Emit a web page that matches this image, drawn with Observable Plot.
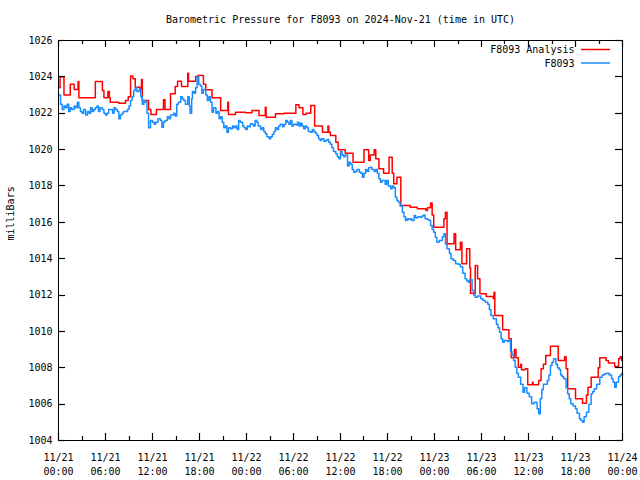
<!DOCTYPE html>
<html>
<head>
<meta charset="utf-8">
<script src="https://cdn.jsdelivr.net/npm/d3@7"></script>
<script src="https://cdn.jsdelivr.net/npm/@observablehq/plot@0.6"></script>
<style>
  html, body { margin: 0; padding: 0; background: white; }
</style>
</head>
<body>
<div id="chart"></div>
<script>
const titleText = "Barometric Pressure for F8093 on 2024-Nov-21 (time in UTC)";
const yLabelText = "milliBars";
const seriesNames = ["F8093 Analysis", "F8093"];
const seriesColors = ["#ff0000", "#1a8cff"];

const yTicks = [1004, 1006, 1008, 1010, 1012, 1014, 1016, 1018, 1020, 1022, 1024, 1026];
const xMajor = [0, 6, 12, 18, 24, 30, 36, 42, 48, 54, 60, 66, 72];
const xMinor = [3, 9, 15, 21, 27, 33, 39, 45, 51, 57, 63, 69];
const xTickLabels = ["11/21\n00:00", "11/21\n06:00", "11/21\n12:00", "11/21\n18:00",
  "11/22\n00:00", "11/22\n06:00", "11/22\n12:00", "11/22\n18:00",
  "11/23\n00:00", "11/23\n06:00", "11/23\n12:00", "11/23\n18:00", "11/24\n00:00"];

const analysisHours = [0,0.2,0.7,1.5,2.0,2.5,2.6,4.7,5.6,5.8,6.3,6.5,6.6,7.7,8.55,8.9,9.2,9.5,9.8,10.4,10.6,10.7,11.5,11.8,12.5,13.4,13.6,14.3,14.9,15.2,15.7,16.5,16.6,17.5,17.8,18.5,18.8,19.6,20.7,21.6,21.7,22.6,23.9,24.7,25.6,26.4,26.5,27.7,28.8,30.3,30.7,31.2,31.6,32.2,32.7,33.7,34.4,34.5,34.7,35.4,35.7,36.6,37.6,39.0,39.6,39.8,40.3,40.5,40.9,41.5,42.2,42.6,42.8,43.2,43.7,44.9,45.8,46.9,47.1,47.5,47.7,47.9,49.2,49.4,49.6,50.5,50.7,51.3,51.5,52.1,52.5,52.6,53.2,53.5,53.8,54.6,55.5,55.6,55.7,56.7,57.5,57.8,58.2,58.4,58.7,59.0,59.1,59.6,59.9,60.5,60.6,61.3,61.6,61.9,62.2,62.8,63.8,64.6,64.8,65.0,66.0,66.9,67.4,67.6,68.0,68.9,69.1,69.9,70.2,71.0,71.5,71.7,71.9,72.0];
const analysisValues = [1023.4,1024.0,1023.0,1023.6,1023.3,1023.75,1022.85,1023.75,1023.25,1022.85,1023.2,1022.85,1022.6,1022.55,1022.7,1022.9,1024.05,1023.9,1023.43,1023.3,1023.85,1022.7,1022.2,1021.93,1022.2,1022.74,1022.2,1023.07,1023.47,1023.76,1023.47,1024.2,1023.76,1024.02,1024.07,1023.6,1023.29,1022.85,1022.15,1022.6,1021.93,1022.06,1022.02,1022.15,1021.87,1022.33,1021.78,1021.97,1022.0,1022.46,1022.3,1021.93,1022.0,1022.43,1021.3,1020.96,1021.3,1020.96,1020.78,1020.4,1019.99,1019.8,1019.31,1019.99,1019.4,1019.7,1019.99,1019.5,1018.94,1018.7,1019.58,1018.7,1018.12,1018.48,1016.93,1016.83,1016.74,1016.65,1016.8,1017.06,1016.4,1015.73,1016.19,1016.56,1014.82,1015.37,1014.49,1014.9,1013.72,1014.54,1013.5,1012.1,1013.63,1012.9,1012.07,1011.92,1011.8,1012.16,1010.88,1010.09,1009.6,1008.55,1009.0,1008.55,1008.03,1008.2,1007.89,1007.95,1007.07,1007.2,1007.07,1007.3,1007.94,1008.2,1008.67,1009.19,1008.4,1008.6,1007.94,1006.84,1006.3,1006.05,1006.5,1006.93,1007.48,1008.0,1008.55,1008.4,1008.26,1008.07,1008.5,1008.6,1008.4,1008.4];

const stationHours = [0.0,0.26,0.47,0.7,0.9,1.1,1.3,1.5,1.7,2.0,2.2,2.4,2.6,2.8,3.0,3.2,3.45,3.7,3.9,4.1,4.3,4.5,4.7,4.9,5.1,5.3,5.6,5.8,6.0,6.2,6.4,6.6,6.9,7.1,7.3,7.5,7.7,7.9,8.1,8.3,8.55,8.8,9.0,9.2,9.4,9.6,9.8,10.0,10.3,10.5,10.7,10.9,11.1,11.3,11.5,11.75,12.0,12.2,12.4,12.7,13.0,13.2,13.4,13.6,13.9,14.1,14.3,14.5,14.7,14.9,15.1,15.3,15.6,15.8,16.0,16.2,16.5,16.7,16.8,17.0,17.1,17.3,17.5,17.7,17.9,18.1,18.3,18.5,18.8,19.0,19.2,19.4,19.6,19.8,20.1,20.3,20.5,20.7,20.9,21.1,21.3,21.5,21.7,21.96,22.2,22.4,22.6,22.8,23.0,23.2,23.5,23.7,23.9,24.1,24.3,24.5,24.7,24.9,25.1,25.3,25.5,25.8,26.0,26.2,26.4,26.6,26.9,27.1,27.3,27.5,27.7,27.9,28.1,28.3,28.6,28.8,29.0,29.2,29.4,29.6,29.8,30.0,30.3,30.5,30.7,30.9,31.1,31.3,31.5,31.7,31.9,32.2,32.4,32.6,32.8,33.0,33.2,33.4,33.6,33.9,34.1,34.3,34.5,34.7,34.9,35.1,35.4,35.6,35.8,36.0,36.2,36.4,36.6,36.9,37.1,37.3,37.5,37.7,37.9,38.1,38.4,38.6,38.8,39.0,39.2,39.4,39.6,39.8,40.0,40.3,40.5,40.7,40.9,41.1,41.3,41.5,41.7,41.9,42.1,42.4,42.6,42.8,43.0,43.2,43.4,43.6,43.9,44.1,44.3,44.5,44.7,44.9,45.1,45.4,45.6,45.9,46.2,46.4,46.6,46.8,47.1,47.3,47.5,47.7,47.9,48.1,48.3,48.6,48.8,49.0,49.2,49.4,49.6,49.9,50.1,50.4,50.7,51.0,51.3,51.6,51.9,52.1,52.3,52.5,52.8,53.0,53.2,53.5,53.9,54.2,54.5,54.8,55.0,55.2,55.5,55.9,56.1,56.3,56.5,56.7,56.9,57.1,57.3,57.5,57.7,57.9,58.1,58.3,58.5,58.7,59.0,59.3,59.5,59.8,60.1,60.4,60.7,61.1,61.3,61.5,61.7,61.9,62.1,62.4,62.6,62.8,63.0,63.2,63.5,63.7,63.9,64.1,64.3,64.5,64.8,65.0,65.2,65.4,65.7,66.0,66.2,66.5,66.7,66.9,67.1,67.4,67.7,68.0,68.2,68.4,68.7,69.1,69.4,69.7,70.0,70.3,70.6,70.8,71.0,71.2,71.5,71.7,71.9,72.0];
const stationValues = [1023.0,1022.5,1022.2,1022.4,1022.3,1022.5,1022.1,1022.3,1022.2,1022.4,1022.3,1022.6,1022.3,1022.1,1022.0,1022.2,1021.9,1022.1,1022.0,1022.3,1022.1,1022.2,1022.3,1022.4,1022.1,1022.3,1022.2,1022.0,1021.9,1022.0,1022.2,1022.2,1022.0,1022.3,1022.2,1022.1,1021.7,1021.9,1022.0,1022.1,1022.1,1022.2,1022.4,1022.7,1022.9,1023.25,1023.4,1023.2,1023.3,1022.9,1022.5,1022.7,1022.6,1022.0,1021.2,1021.6,1021.5,1021.4,1021.5,1021.7,1021.6,1021.23,1021.5,1021.6,1021.8,1021.7,1021.9,1021.9,1022.0,1021.85,1022.5,1022.6,1022.9,1022.8,1022.7,1022.5,1022.9,1022.4,1022.0,1022.8,1023.2,1023.1,1023.4,1024.0,1023.6,1023.5,1023.1,1023.3,1023.0,1022.7,1022.9,1022.6,1022.06,1022.3,1022.0,1022.1,1021.7,1021.8,1021.5,1021.2,1021.3,1020.96,1021.2,1021.14,1021.3,1021.2,1021.3,1021.1,1021.6,1021.5,1021.3,1021.2,1021.1,1021.3,1021.25,1021.42,1021.4,1021.3,1021.6,1021.5,1021.3,1021.1,1021.2,1021.0,1020.87,1020.7,1020.6,1020.7,1020.85,1021.0,1021.2,1021.1,1021.3,1021.4,1021.25,1021.4,1021.6,1021.5,1021.4,1021.6,1021.3,1021.4,1021.35,1021.5,1021.3,1021.45,1021.3,1021.14,1021.3,1021.2,1021.0,1020.96,1021.1,1021.0,1020.9,1020.78,1020.6,1020.5,1020.6,1020.45,1020.5,1020.55,1020.4,1020.3,1020.1,1019.9,1019.77,1019.6,1019.5,1019.9,1019.7,1019.6,1019.7,1019.1,1019.3,1019.2,1018.9,1018.76,1018.8,1018.9,1018.75,1018.7,1018.48,1018.7,1018.9,1018.8,1019.0,1019.03,1018.9,1018.8,1018.9,1018.7,1018.4,1018.2,1018.3,1018.3,1018.1,1018.3,1018.0,1017.84,1018.0,1017.9,1017.38,1017.2,1017.1,1016.9,1016.56,1016.3,1016.1,1016.2,1016.15,1016.2,1016.1,1016.38,1016.25,1016.3,1016.28,1016.35,1016.4,1016.2,1016.15,1016.1,1015.83,1015.6,1015.46,1015.18,1014.9,1015.0,1015.0,1015.2,1015.37,1014.8,1014.54,1014.3,1014.0,1013.9,1013.72,1013.7,1013.55,1013.2,1012.9,1012.8,1012.7,1012.85,1012.25,1012.0,1011.88,1011.95,1011.8,1011.7,1011.6,1011.5,1011.2,1010.88,1010.7,1010.4,1010.2,1009.96,1009.6,1009.4,1009.5,1009.5,1009.45,1009.5,1008.9,1008.7,1008.4,1008.03,1007.7,1007.48,1007.1,1006.66,1006.9,1006.6,1006.4,1006.02,1006.1,1005.74,1005.47,1006.3,1006.8,1007.1,1007.1,1007.3,1007.6,1008.12,1008.3,1008.49,1008.2,1008.0,1007.9,1007.6,1007.5,1007.39,1006.9,1006.57,1006.3,1006.02,1005.9,1005.74,1005.5,1005.2,1005.1,1005.0,1005.3,1005.55,1006.0,1006.57,1006.7,1006.84,1007.1,1007.48,1007.6,1007.67,1007.7,1007.6,1007.4,1007.2,1006.93,1007.2,1007.5,1007.6,1007.7,1007.6];

const analysis = analysisHours.map((h, i) => ({h, v: analysisValues[i]}));
const station = stationHours.map((h, i) => ({h, v: stationValues[i]}));

const W = 640, H = 480;
const M = {top: 40, right: 18, bottom: 40, left: 58};
const FONT = "DejaVu Sans Mono";

const chart = Plot.plot({
  width: W,
  height: H,
  marginTop: M.top,
  marginRight: M.right,
  marginBottom: M.bottom,
  marginLeft: M.left,
  style: {fontFamily: FONT, fontSize: "10px", background: "white", color: "black"},
  x: {domain: [0, 72]},
  y: {domain: [1004, 1026]},
  marks: [
    Plot.line(analysis, {x: "h", y: "v", stroke: seriesColors[0], strokeWidth: 1.5, curve: "step-after"}),
    Plot.line(station, {x: "h", y: "v", stroke: seriesColors[1], strokeWidth: 1.5, curve: "step-after"}),
    Plot.axisY({anchor: "left", ticks: yTicks, tickSize: 0, tickPadding: 6, tickFormat: d => String(d), label: null, fontSize: 10}),
    Plot.axisX({anchor: "bottom", ticks: xMajor, tickSize: 0, tickPadding: 11, tickFormat: d => xTickLabels[xMajor.indexOf(d)], label: null, lineHeight: 1.35, fontSize: 10}),
    Plot.frame({stroke: "black", strokeWidth: 1}),
    Plot.text([titleText], {frameAnchor: "top", lineAnchor: "middle", dy: -21, fontSize: 10, fill: "black"}),
    Plot.text([yLabelText], {frameAnchor: "left", lineAnchor: "middle", dx: -48, rotate: -90, fontSize: 10, fill: "black"}),
    Plot.text([seriesNames[0]], {frameAnchor: "top-right", textAnchor: "end", lineAnchor: "middle", dx: -48, dy: 9.5, fontSize: 10, fill: "black"}),
    Plot.text([seriesNames[1]], {frameAnchor: "top-right", textAnchor: "end", lineAnchor: "middle", dx: -48, dy: 23, fontSize: 10, fill: "black"})
  ]
});

const svg = d3.select(chart);
const xs = chart.scale("x"), ys = chart.scale("y");
const fTop = M.top, fBottom = H - M.bottom, fLeft = M.left, fRight = W - M.right;
const xPix = v => fLeft + (v - 0) / 72 * (fRight - fLeft);
const yPix = v => fBottom - (v - 1004) / 22 * (fBottom - fTop);
const xAt = v => { const p = xs && xs.apply ? xs.apply(v) : NaN; return Number.isFinite(p) ? p : xPix(v); };
const yAt = v => { const p = ys && ys.apply ? ys.apply(v) : NaN; return Number.isFinite(p) ? p : yPix(v); };

const tickG = svg.append("g");
function seg(x1, y1, x2, y2) {
  tickG.append("line").attr("x1", x1).attr("x2", x2).attr("y1", y1).attr("y2", y2)
    .attr("stroke", "#000000").attr("stroke-width", 1.2).attr("fill", "none");
}
function vTick(px, len) {
  const x = Math.round(px) + 0.5;
  seg(x, fBottom, x, fBottom - len);
  seg(x, fTop, x, fTop + len);
}
xMajor.forEach(v => vTick(xAt(v), 7));
xMinor.forEach(v => vTick(xAt(v), 4));
yTicks.forEach(v => {
  const y = Math.round(yAt(v)) + 0.5;
  seg(fLeft, y, fLeft + 7, y);
  seg(fRight, y, fRight - 7, y);
});

// legend sample lines
const lx2 = fRight - 12, lx1 = lx2 - 29;
[fTop + 9.5, fTop + 23].forEach((y, i) => {
  svg.append("line").attr("x1", lx1).attr("x2", lx2).attr("y1", y).attr("y2", y)
    .attr("stroke", seriesColors[i]).attr("stroke-width", 1.5);
});

document.getElementById("chart").appendChild(chart);
</script>
</body>
</html>
